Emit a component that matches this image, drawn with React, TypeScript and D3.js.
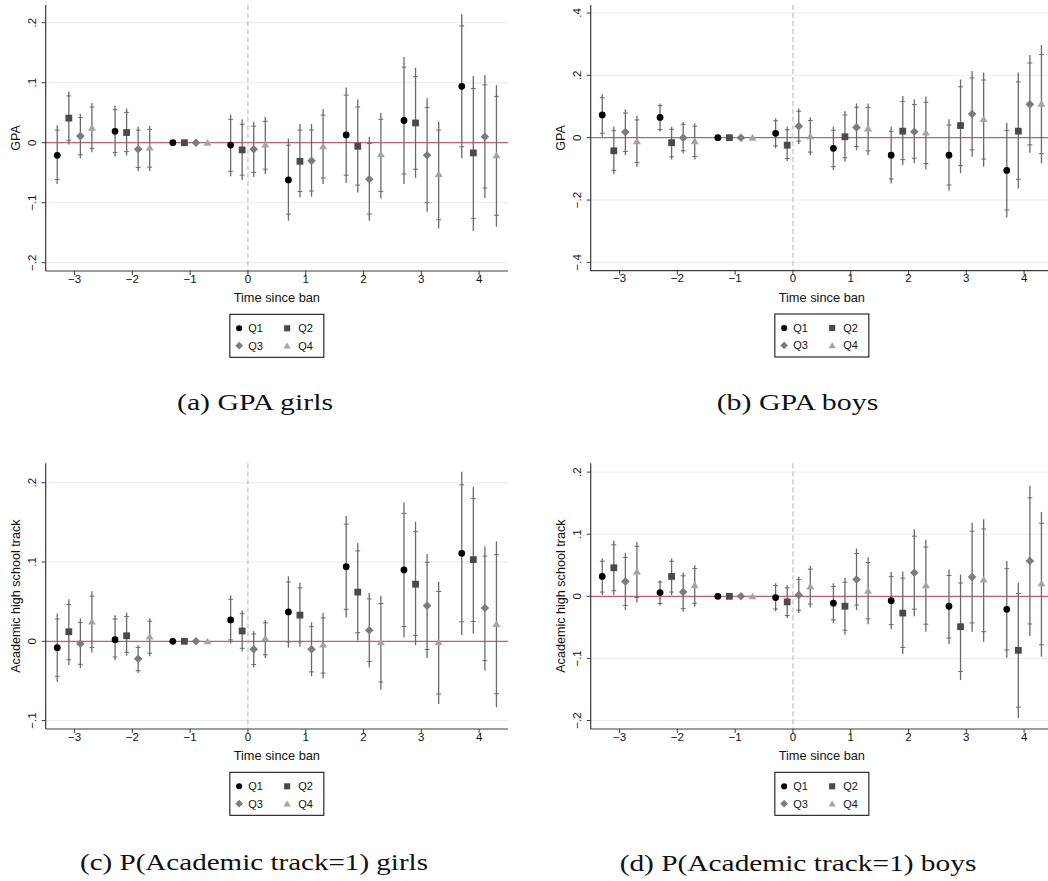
import React from 'react';
import * as d3 from 'd3';

// ---------- shared categories ----------
const periods = [-3, -2, -1, 0, 1, 2, 3, 4];
const quartiles = ['Q1', 'Q2', 'Q3', 'Q4'];
const quartileOffsets = [-0.3, -0.1, 0.1, 0.3];
const xTicks = [-3, -2, -1, 0, 1, 2, 3, 4];
const xTickLabels = ['−3', '−2', '−1', '0', '1', '2', '3', '4'];

// ---------- (a) GPA girls : rows = Q1..Q4, columns = periods ----------
const gpaGirlsEst = [
  [-0.021, 0.019, 0, -0.004, -0.062, 0.013, 0.037, 0.094],
  [0.041, 0.017, 0, -0.012, -0.031, -0.006, 0.033, -0.017],
  [0.011, -0.011, 0, -0.011, -0.030, -0.061, -0.021, 0.010],
  [0.025, -0.008, 0, -0.003, -0.006, -0.019, -0.052, -0.021],
];
const gpaGirlsLo = [
  [-0.069, -0.023, 0, -0.056, -0.130, -0.067, -0.069, -0.026],
  [-0.003, -0.021, 0, -0.062, -0.091, -0.083, -0.059, -0.147],
  [-0.026, -0.047, 0, -0.057, -0.090, -0.130, -0.115, -0.092],
  [-0.016, -0.047, 0, -0.052, -0.069, -0.093, -0.143, -0.140],
];
const gpaGirlsHi = [
  [0.029, 0.062, 0, 0.047, 0.007, 0.092, 0.143, 0.214],
  [0.085, 0.057, 0, 0.039, 0.031, 0.072, 0.125, 0.111],
  [0.048, 0.027, 0, 0.035, 0.031, 0.010, 0.074, 0.113],
  [0.066, 0.028, 0, 0.043, 0.056, 0.050, 0.035, 0.096],
];

// ---------- (b) GPA boys ----------
const gpaBoysEst = [
  [0.073, 0.065, 0, 0.014, -0.034, -0.056, -0.056, -0.105],
  [-0.042, -0.016, 0, -0.024, 0.003, 0.021, 0.039, 0.021],
  [0.018, 0.0, 0, 0.037, 0.033, 0.019, 0.076, 0.107],
  [-0.011, -0.011, 0, 0.005, 0.030, 0.017, 0.060, 0.109],
];
const gpaBoysLo = [
  [0.003, 0.019, 0, -0.034, -0.104, -0.147, -0.170, -0.256],
  [-0.117, -0.070, 0, -0.075, -0.077, -0.088, -0.114, -0.163],
  [-0.056, -0.050, 0, -0.020, -0.040, -0.082, -0.061, -0.048],
  [-0.093, -0.070, 0, -0.056, -0.056, -0.102, -0.093, -0.082],
];
const gpaBoysHi = [
  [0.139, 0.110, 0, 0.062, 0.035, 0.035, 0.059, 0.048],
  [0.035, 0.035, 0, 0.035, 0.086, 0.134, 0.187, 0.209],
  [0.091, 0.051, 0, 0.094, 0.110, 0.123, 0.214, 0.265],
  [0.070, 0.046, 0, 0.065, 0.110, 0.132, 0.209, 0.297],
];

// ---------- (c) Academic track girls ----------
const trackGirlsEst = [
  [-0.008, 0.002, 0, 0.027, 0.037, 0.094, 0.090, 0.111],
  [0.012, 0.007, 0, 0.013, 0.033, 0.062, 0.072, 0.103],
  [-0.003, -0.022, 0, -0.010, -0.010, 0.014, 0.045, 0.042],
  [0.025, 0.006, 0, 0.004, -0.004, -0.001, -0.001, 0.022],
];
const trackGirlsLo = [
  [-0.051, -0.024, 0, -0.003, -0.008, 0.030, 0.005, 0.008],
  [-0.030, -0.018, 0, -0.013, -0.007, 0.001, -0.005, 0.010],
  [-0.034, -0.040, 0, -0.033, -0.044, -0.033, -0.021, -0.037],
  [-0.014, -0.019, 0, -0.021, -0.047, -0.061, -0.079, -0.083],
];
const trackGirlsHi = [
  [0.035, 0.033, 0, 0.058, 0.082, 0.158, 0.175, 0.214],
  [0.053, 0.036, 0, 0.039, 0.074, 0.124, 0.151, 0.195],
  [0.029, -0.005, 0, 0.013, 0.024, 0.061, 0.110, 0.120],
  [0.063, 0.029, 0, 0.027, 0.036, 0.057, 0.075, 0.126],
];

// ---------- (d) Academic track boys ----------
const trackBoysEst = [
  [0.032, 0.006, 0, -0.002, -0.011, -0.007, -0.016, -0.021],
  [0.046, 0.032, 0, -0.009, -0.016, -0.027, -0.049, -0.087],
  [0.024, 0.007, 0, 0.002, 0.027, 0.038, 0.031, 0.057],
  [0.040, 0.018, 0, 0.016, 0.009, 0.018, 0.027, 0.021],
];
const trackBoysLo = [
  [0.002, -0.015, 0, -0.024, -0.043, -0.053, -0.077, -0.099],
  [0.002, 0.002, 0, -0.035, -0.062, -0.093, -0.135, -0.196],
  [-0.022, -0.025, 0, -0.027, -0.022, -0.032, -0.057, -0.064],
  [-0.010, -0.017, 0, -0.018, -0.045, -0.057, -0.073, -0.097],
];
const trackBoysHi = [
  [0.061, 0.026, 0, 0.021, 0.021, 0.039, 0.043, 0.057],
  [0.090, 0.061, 0, 0.018, 0.030, 0.040, 0.035, 0.022],
  [0.070, 0.038, 0, 0.032, 0.077, 0.108, 0.119, 0.178],
  [0.088, 0.050, 0, 0.049, 0.063, 0.091, 0.124, 0.136],
];

// ---------- y ticks ----------
const gpaGirlsTicks = [-0.2, -0.1, 0, 0.1, 0.2];
const gpaBoysTicks = [-0.4, -0.2, 0, 0.2, 0.4];
const trackGirlsTicks = [-0.1, 0, 0.1, 0.2];
const trackBoysTicks = [-0.2, -0.1, 0, 0.1, 0.2];

const REF_PERIOD = -1;
const Z90_OVER_Z95 = 1.645 / 1.96;

const SANS = 'Liberation Sans, Arial, Helvetica, sans-serif';
const SERIF = 'Liberation Serif, Times New Roman, serif';
const markerFill = ['#000000', '#4a4a4a', '#7c7c7c', '#a4a4a4'];
const ciColor = '#6a6a6a';

const fmtY = (v: number) => {
  if (Math.abs(v) < 1e-9) return '0';
  const s = String(Math.round(Math.abs(v) * 10) / 10).replace(/^0/, '');
  return (v < 0 ? '−' : '') + s;
};

function markerPath(q: number, cx: number, cy: number, scale = 1): string {
  if (q === 0) {
    const r = 3.4 * scale;
    return `M${cx - r},${cy}A${r},${r} 0 1,0 ${cx + r},${cy}A${r},${r} 0 1,0 ${cx - r},${cy}Z`;
  }
  if (q === 1) {
    const h = 3.4 * scale;
    return `M${cx - h},${cy - h}H${cx + h}V${cy + h}H${cx - h}Z`;
  }
  if (q === 2) {
    const h = 4.3 * scale;
    return `M${cx},${cy - h}L${cx + h},${cy}L${cx},${cy + h}L${cx - h},${cy}Z`;
  }
  const w = 4.0 * scale;
  const ht = 3.6 * scale;
  return `M${cx},${cy - ht}L${cx + w},${cy + ht * 0.85}L${cx - w},${cy + ht * 0.85}Z`;
}

type Layout = {
  left: number; right: number; top: number; bottom: number;
  yDomain: [number, number];
  capCx: number; capW: number; capBase: number;
};

function Panel(props: {
  layout: Layout; est: number[][]; lo: number[][]; hi: number[][];
  yTicks: number[]; yTitle: string; caption: string;
}) {
  const { layout: L, est, lo, hi, yTicks, yTitle, caption } = props;
  const x = d3.scaleLinear().domain([-3.5, 4.5]).range([L.left, L.right]);
  const y = d3.scaleLinear().domain(L.yDomain).range([L.bottom, L.top]);
  const cx = (L.left + L.right) / 2;
  const cyMid = (L.top + L.bottom) / 2;
  const legTop = L.bottom + 43.3;
  const legLeft = cx - 47;

  const pts: any[] = [];
  quartiles.forEach((qn, qi) => {
    periods.forEach((p, pi) => {
      pts.push({ qi, p, px: x(p + quartileOffsets[qi]), e: est[qi][pi], l: lo[qi][pi], h: hi[qi][pi] });
    });
  });

  return (
    <g>
      {/* gridlines */}
      {yTicks.filter(v => Math.abs(v) > 1e-9).map(v => (
        <line key={'g' + v} x1={L.left} x2={L.right} y1={y(v)} y2={y(v)} stroke="#ebebeb" strokeWidth={1} />
      ))}
      {/* zero line */}
      <line x1={L.left} x2={L.right} y1={y(0)} y2={y(0)} stroke="#b03a45" strokeWidth={1} />
      {/* vertical dashed at 0 */}
      <line x1={x(0)} x2={x(0)} y1={L.top} y2={L.bottom} stroke="#b4b4b4" strokeWidth={1} strokeDasharray="5,3" />
      {/* CI spikes */}
      {pts.filter(d => d.p !== REF_PERIOD).map((d, i) => {
        const c90h = d.e + (d.h - d.e) * Z90_OVER_Z95;
        const c90l = d.e - (d.e - d.l) * Z90_OVER_Z95;
        return (
          <g key={'ci' + i} stroke={ciColor}>
            <line x1={d.px} x2={d.px} y1={y(d.h)} y2={y(d.l)} strokeWidth={1.3} />
            <line x1={d.px - 2.4} x2={d.px + 2.4} y1={y(c90h)} y2={y(c90h)} strokeWidth={1} />
            <line x1={d.px - 2.4} x2={d.px + 2.4} y1={y(c90l)} y2={y(c90l)} strokeWidth={1} />
          </g>
        );
      })}
      {/* markers */}
      {pts.map((d, i) => (
        <path key={'m' + i} d={markerPath(d.qi, d.px, y(d.e))} fill={markerFill[d.qi]} />
      ))}
      {/* y axis */}
      <line x1={L.left} x2={L.left} y1={L.top} y2={L.bottom} stroke="#3a3a3a" strokeWidth={1.2} />
      {yTicks.map(v => (
        <g key={'yt' + v}>
          <line x1={L.left - 4} x2={L.left} y1={y(v)} y2={y(v)} stroke="#3a3a3a" strokeWidth={1} />
          <text transform={`translate(${L.left - 10},${y(v)}) rotate(-90)`} textAnchor="middle"
            fontFamily={SANS} fontSize={11.5} fill="#111">{fmtY(v)}</text>
        </g>
      ))}
      <text transform={`translate(${L.left - 25.5},${cyMid}) rotate(-90)`} textAnchor="middle"
        fontFamily={SANS} fontSize={12.6} fill="#111">{yTitle}</text>
      {/* x axis */}
      <line x1={L.left} x2={L.right} y1={L.bottom} y2={L.bottom} stroke="#3a3a3a" strokeWidth={1.2} />
      {xTicks.map((t, i) => (
        <g key={'xt' + t}>
          <line x1={x(t)} x2={x(t)} y1={L.bottom} y2={L.bottom + 4} stroke="#3a3a3a" strokeWidth={1} />
          <text x={x(t)} y={L.bottom + 11.5} textAnchor="middle" fontFamily={SANS} fontSize={11.5} fill="#111">{xTickLabels[i]}</text>
        </g>
      ))}
      <text x={cx} y={L.bottom + 31} textAnchor="middle" fontFamily={SANS} fontSize={12.8} fill="#111">Time since ban</text>
      {/* legend */}
      <rect x={legLeft} y={legTop} width={94} height={43} fill="#fff" stroke="#000" strokeWidth={1} />
      {quartiles.map((qn, qi) => {
        const col = qi % 2;
        const row = Math.floor(qi / 2);
        const mx = legLeft + 9.3 + col * 48;
        const my = legTop + 14 + row * 17.4;
        return (
          <g key={'lg' + qn}>
            <path d={markerPath(qi, mx, my, 0.9)} fill={markerFill[qi]} />
            <text x={mx + 9 + col * 2} y={my} dy="0.36em" fontFamily={SANS} fontSize={11} fill="#111">{qn}</text>
          </g>
        );
      })}
      {/* caption */}
      <text x={L.capCx} y={L.capBase} textAnchor="middle" fontFamily={SERIF} fontSize={23}
        textLength={L.capW} lengthAdjust="spacingAndGlyphs" fill="#111">{caption}</text>
    </g>
  );
}

const layoutA: Layout = { left: 45.7, right: 508, top: 5, bottom: 271, yDomain: [-0.2138, 0.2295], capCx: 255, capW: 156, capBase: 410 };
const layoutB: Layout = { left: 590.7, right: 1053, top: 5, bottom: 270.7, yDomain: [-0.4267, 0.4257], capCx: 797.5, capW: 161.7, capBase: 410 };
const layoutC: Layout = { left: 45.7, right: 508, top: 463.3, bottom: 729, yDomain: [-0.1106, 0.2245], capCx: 254, capW: 348, capBase: 870 };
const layoutD: Layout = { left: 590.7, right: 1053, top: 463.3, bottom: 729, yDomain: [-0.2137, 0.2142], capCx: 798, capW: 356.7, capBase: 871 };

export default function App() {
  return (
    <svg width={1048} height={881} viewBox="0 0 1048 881"
      style={{ position: 'absolute', left: 0, top: 0, background: '#fff' }}>
      <rect x={0} y={0} width={1048} height={881} fill="#fff" />
      <Panel layout={layoutA} est={gpaGirlsEst} lo={gpaGirlsLo} hi={gpaGirlsHi} yTicks={gpaGirlsTicks} yTitle="GPA" caption="(a) GPA girls" />
      <Panel layout={layoutB} est={gpaBoysEst} lo={gpaBoysLo} hi={gpaBoysHi} yTicks={gpaBoysTicks} yTitle="GPA" caption="(b) GPA boys" />
      <Panel layout={layoutC} est={trackGirlsEst} lo={trackGirlsLo} hi={trackGirlsHi} yTicks={trackGirlsTicks} yTitle="Academic high school track" caption="(c) P(Academic track=1) girls" />
      <Panel layout={layoutD} est={trackBoysEst} lo={trackBoysLo} hi={trackBoysHi} yTicks={trackBoysTicks} yTitle="Academic high school track" caption="(d) P(Academic track=1) boys" />
    </svg>
  );
}
